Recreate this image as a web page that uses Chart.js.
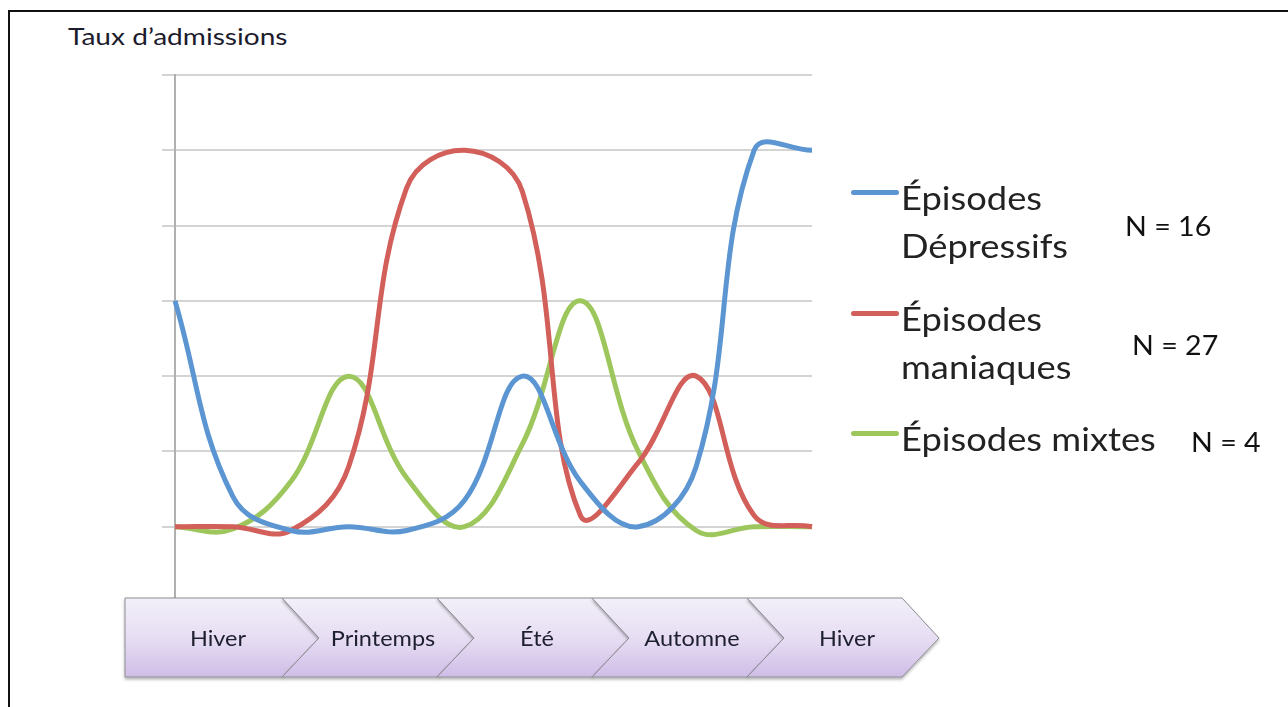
<!DOCTYPE html>
<html lang="fr">
<head>
<meta charset="utf-8">
<title>Taux d'admissions</title>
<script src="https://cdn.jsdelivr.net/npm/chart.js@4.4.1/dist/chart.umd.min.js"></script>
<style>
  html, body { margin: 0; padding: 0; background: #fff; }
  body { width: 1288px; height: 707px; position: relative; overflow: hidden; font-family: Lato, "Open Sans", sans-serif; }
  #frame { position: absolute; left: 8px; top: 10px; width: 1300px; height: 720px; border-top: 2px solid #111; border-left: 2px solid #111; }
  #title { position: absolute; left: 68px; top: 21px; font-size: 24px; color: #1c1c2c; white-space: nowrap;
           transform: scaleX(1.17); transform-origin: left center; }
  #chart { position: absolute; left: 0; top: 0; }
  .lg-line { position: absolute; width: 48px; height: 5px; border-radius: 3px; }
  .lg-text { position: absolute; font-size: 33px; line-height: 48px; color: #222; white-space: nowrap;
             transform: scaleX(1.1); transform-origin: left top; }
  .lg-n { position: absolute; font-size: 26px; color: #111; white-space: nowrap;
          transform: scaleX(1.1); transform-origin: left top; }
  #band { position: absolute; left: 0; top: 0; }
</style>
</head>
<body>
<div id="frame"></div>
<div id="title">Taux d’admissions</div>
<canvas id="chart" width="1288" height="707"></canvas>
<svg id="band" width="1288" height="707"></svg>
<div id="legend"></div>

<script>
/* ---------- Données ---------- */
const MOIS = ["janv.", "févr.", "mars", "avr.", "mai", "juin", "juil.", "août", "sept.", "oct.", "nov.", "déc."];
const DEPRESSIFS = [4, 1.4, 0.95, 1, 0.95, 1.35, 3, 1.6, 1.0, 1.8, 6, 6];
const MANIAQUES  = [1, 1, 0.95, 1.8, 5.5, 6, 5.45, 1.15, 1.85, 3, 1.15, 1];
const MIXTES     = [1, 0.97, 1.6, 3, 1.65, 1, 2.1, 4, 2.0, 0.95, 1, 1];
const SERIES_NOMS = ["Épisodes Dépressifs", "Épisodes maniaques", "Épisodes mixtes"];
const SERIES_N = ["N = 16", "N = 27", "N = 4"];
const SAISONS = ["Hiver", "Printemps", "Été", "Automne", "Hiver"];

const BLEU = "#5b95d2";
const ROUGE = "#d25f5a";
const VERT = "#9dc75c";
const GRILLE = "#d4d4d4";

/* ---------- Graphique ---------- */
function serie(label, data, color) {
  return {
    label: label,
    data: data,
    borderColor: color,
    backgroundColor: color,
    borderWidth: 5,
    pointRadius: 0,
    tension: 0.4,
    fill: false,
  };
}

new Chart(document.getElementById("chart"), {
  type: "line",
  data: {
    labels: MOIS,
    datasets: [
      serie(SERIES_NOMS[0], DEPRESSIFS, BLEU),
      serie(SERIES_NOMS[1], MANIAQUES, ROUGE),
      serie(SERIES_NOMS[2], MIXTES, VERT),
    ],
  },
  options: {
    responsive: false,
    animation: false,
    layout: { padding: { left: 162, top: 75, right: 476, bottom: 105 } },
    plugins: { legend: { display: false }, tooltip: { enabled: false } },
    scales: {
      x: { display: false },
      y: {
        min: 0,
        max: 7,
        ticks: { display: false, stepSize: 1 },
        grid: { color: GRILLE, lineWidth: 2, drawTicks: true, tickLength: 13 },
        border: { display: true, color: "#b0b0b0", width: 2 },
      },
    },
  },
});

/* ---------- Légende (HTML) ---------- */
const legend = document.getElementById("legend");
const LG = [
  { color: BLEU, lineY: 190, textY: 173, lines: ["Épisodes", "Dépressifs"], nX: 1125, nY: 210 },
  { color: ROUGE, lineY: 311, textY: 294, lines: ["Épisodes", "maniaques"], nX: 1132, nY: 329 },
  { color: VERT, lineY: 431, textY: 414, lines: ["Épisodes mixtes"], nX: 1191, nY: 426 },
];
LG.forEach((l, i) => {
  const line = document.createElement("div");
  line.className = "lg-line";
  line.style.left = "851px";
  line.style.top = l.lineY + "px";
  line.style.background = l.color;
  legend.appendChild(line);

  const txt = document.createElement("div");
  txt.className = "lg-text";
  txt.style.left = "901px";
  txt.style.top = l.textY + "px";
  txt.innerHTML = l.lines.join("<br>");
  legend.appendChild(txt);

  const n = document.createElement("div");
  n.className = "lg-n";
  n.style.left = l.nX + "px";
  n.style.top = l.nY + "px";
  n.textContent = SERIES_N[i];
  legend.appendChild(n);
});

/* ---------- Bandeau des saisons (chevrons) ---------- */
const svg = document.getElementById("band");
const NS = "http://www.w3.org/2000/svg";
const top0 = 598, bot0 = 677, mid0 = 638, w0 = 155, tip = 37, x0 = 125;
svg.innerHTML =
  '<defs><linearGradient id="g" x1="0" y1="0" x2="0" y2="1">' +
  '<stop offset="0" stop-color="#f3f0f9"/><stop offset="0.55" stop-color="#e5dbf2"/>' +
  '<stop offset="1" stop-color="#cfbde7"/></linearGradient>' +
  '<filter id="sh" x="-5%" y="-20%" width="110%" height="150%">' +
  '<feDropShadow dx="0" dy="2" stdDeviation="1.5" flood-color="#000" flood-opacity="0.3"/></filter></defs>';
SAISONS.forEach((s, i) => {
  const start = i === 0 ? x0 : 127 + i * w0;
  const b = 127 + (i + 1) * w0;
  let pts;
  if (i === 0) {
    pts = [[x0, top0], [b, top0], [b + tip, mid0], [b, bot0], [x0, bot0]];
  } else {
    pts = [[start, top0], [b, top0], [b + tip, mid0], [b, bot0], [start, bot0], [start + tip, mid0]];
  }
  const poly = document.createElementNS(NS, "polygon");
  poly.setAttribute("points", pts.map((p) => p.join(",")).join(" "));
  poly.setAttribute("fill", "url(#g)");
  poly.setAttribute("stroke", "#8d8d94");
  poly.setAttribute("stroke-width", "1");
  poly.setAttribute("filter", "url(#sh)");
  svg.appendChild(poly);
});
SAISONS.forEach((s, i) => {
  const cx = [218, 383, 537, 692, 847][i];
  const t = document.createElementNS(NS, "text");
  t.setAttribute("x", 0);
  t.setAttribute("y", 0);
  t.setAttribute("transform", "translate(" + cx + "," + (mid0 + 8) + ") scale(1.12,1)");
  t.setAttribute("text-anchor", "middle");
  t.setAttribute("font-family", "Lato, 'Open Sans', sans-serif");
  t.setAttribute("font-size", "21");
  t.setAttribute("fill", "#1e2030");
  t.textContent = s;
  svg.appendChild(t);
});
</script>
</body>
</html>
